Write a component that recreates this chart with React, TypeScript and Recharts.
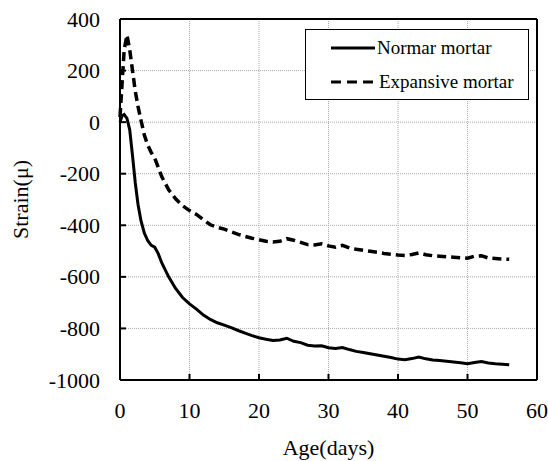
import React from 'react';
import { LineChart, Line, XAxis, YAxis, CartesianGrid, ReferenceLine, Label } from 'recharts';

const days = [
  0, 0.3, 0.6, 1, 1.4, 1.8, 2.2, 2.6, 3, 3.5, 4, 4.5, 5, 5.5, 6, 7, 8, 9, 10,
  11, 12, 13, 14, 15, 16, 17, 18, 19, 20, 21, 22, 23, 24, 25, 26, 27, 28, 29, 30,
  31, 32, 33, 34, 35, 36, 37, 38, 39, 40, 41, 42, 43, 44, 45, 46, 47, 48, 49, 50,
  51, 52, 53, 54, 55, 56,
];

const normalStrain = [
  0, 25, 30, 15, -30, -130, -236, -320, -380, -430, -460, -478, -485, -510, -545, -600, -645, -680, -705,
  -725, -748, -765, -778, -787, -797, -808, -818, -828, -836, -842, -847, -845, -838, -850, -855, -865, -868, -867, -875,
  -878, -874, -882, -889, -893, -898, -903, -908, -913, -919, -921, -917, -911, -918, -922, -924, -927, -930, -933, -937,
  -932, -928, -934, -937, -939, -941,
];

const expansiveStrain = [
  20, 150, 280, 338, 280, 200, 120, 60, 10, -50, -90, -118, -140, -175, -211, -262, -297, -324, -343,
  -358, -378, -398, -408, -415, -425, -435, -443, -450, -456, -462, -465, -462, -452, -458, -466, -475, -476, -472, -480,
  -485, -478, -488, -493, -497, -501, -505, -509, -512, -515, -517, -513, -507, -514, -518, -520, -522, -524, -526, -528,
  -520, -518, -527, -529, -531, -532,
];

const xTicks = [0, 10, 20, 30, 40, 50, 60];
const yTicks = [-1000, -800, -600, -400, -200, 0, 200, 400];

const data = days.map((d, i) => ({ day: d, normal: normalStrain[i], expansive: expansiveStrain[i] }));

const FONT = "'Times New Roman', 'Liberation Serif', Tinos, 'DejaVu Serif', 'Noto Serif', serif";

const XTick = ({ x, y, payload }: any) => (
  <g>
    {payload.value !== 0 && payload.value !== 60 && (
      <line x1={x} x2={x} y1={y} y2={y - 6} stroke="#000" strokeWidth={2} />
    )}
    <text x={x} y={y + 30} textAnchor="middle" dominantBaseline="central" style={{ fontFamily: FONT }} fontSize={22} fill="#000">
      {payload.value}
    </text>
  </g>
);

const YTick = ({ x, y, payload }: any) => (
  <g>
    {payload.value !== -1000 && payload.value !== 400 && (
      <line x1={x} x2={x + 6} y1={y} y2={y} stroke="#000" strokeWidth={2} />
    )}
    <text x={x - 20} y={y} textAnchor="end" dominantBaseline="central" style={{ fontFamily: FONT }} fontSize={22} fill="#000">
      {payload.value}
    </text>
  </g>
);

const App = () => {
  return (
    <div style={{ position: 'absolute', left: 0, top: 0, width: 548, height: 461, background: '#fff', fontFamily: FONT }}>
      <LineChart width={548} height={461} data={data} margin={{ top: 19, right: 11, bottom: 0, left: 0 }}>
        <CartesianGrid stroke="#aaa" strokeDasharray="1 1" />
        <XAxis
          dataKey="day"
          type="number"
          domain={[0, 60]}
          ticks={xTicks}
          height={81}
          tickSize={0}
          tickMargin={0}
          tickLine={false}
          axisLine={{ stroke: '#000', strokeWidth: 2 }}
          tick={(p: any) => <XTick {...p} />}
        >
          <Label
            content={({ viewBox }: any) => (
              <text
                x={viewBox.x + viewBox.width / 2}
                y={viewBox.y + 67}
                textAnchor="middle"
                dominantBaseline="central"
                style={{ fontFamily: FONT }}
                fontSize={22}
                fill="#000"
              >
                Age(days)
              </text>
            )}
          />
        </XAxis>
        <YAxis
          type="number"
          domain={[-1000, 400]}
          ticks={yTicks}
          width={120}
          tickSize={0}
          tickMargin={0}
          tickLine={false}
          axisLine={{ stroke: '#000', strokeWidth: 2 }}
          tick={(p: any) => <YTick {...p} />}
        >
          <Label
            content={({ viewBox }: any) => {
              const cx = viewBox.x + 20;
              const cy = viewBox.y + viewBox.height / 2;
              return (
                <text
                  x={cx}
                  y={cy}
                  transform={`rotate(-90 ${cx} ${cy})`}
                  textAnchor="middle"
                  dominantBaseline="central"
                  style={{ fontFamily: FONT }}
                  fontSize={22}
                  fill="#000"
                >
                  Strain(μ)
                </text>
              );
            }}
          />
        </YAxis>
        <ReferenceLine y={400} stroke="#000" strokeWidth={2} />
        <ReferenceLine x={60} stroke="#000" strokeWidth={2} />
        <Line dataKey="normal" stroke="#000" strokeWidth={3} dot={false} type="linear" isAnimationActive={false} />
        <Line
          dataKey="expansive"
          stroke="#000"
          strokeWidth={3.5}
          strokeDasharray="9 5"
          dot={false}
          type="linear"
          isAnimationActive={false}
        />
      </LineChart>
      <div
        style={{
          position: 'absolute',
          left: 305,
          top: 29,
          width: 222,
          height: 69,
          border: '1.5px solid #000',
          background: '#fff',
          fontFamily: FONT,
          fontSize: 19,
          color: '#000',
        }}
      >
        <div style={{ position: 'absolute', left: 25, top: 7, display: 'flex', alignItems: 'center', whiteSpace: 'nowrap' }}>
          <svg width={44} height={6} style={{ marginRight: 2 }}>
            <line x1={0} x2={44} y1={3} y2={3} stroke="#000" strokeWidth={3} />
          </svg>
          Normar mortar
        </div>
        <div style={{ position: 'absolute', left: 25, top: 41, display: 'flex', alignItems: 'center', whiteSpace: 'nowrap' }}>
          <svg width={44} height={6} style={{ marginRight: 4 }}>
            <line x1={0} x2={44} y1={3} y2={3} stroke="#000" strokeWidth={3} strokeDasharray="10 6" />
          </svg>
          Expansive mortar
        </div>
      </div>
    </div>
  );
};

export default App;
